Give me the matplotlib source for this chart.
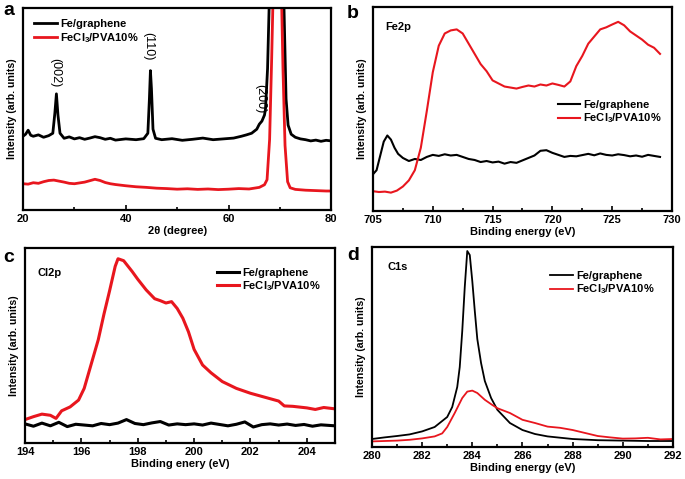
import matplotlib
matplotlib.use("Agg")
import matplotlib.pyplot as plt

plt.rcParams['font.family'] = ['Liberation Sans', 'DejaVu Sans']
plt.rcParams['mathtext.fontset'] = 'custom'
plt.rcParams['mathtext.rm'] = 'Liberation Sans:bold'
plt.rcParams['mathtext.bf'] = 'Liberation Sans:bold'
plt.rcParams['mathtext.default'] = 'bf'

RED = '#e8161e'
labels = ["Fe/graphene", r"FeCl$_3$/PVA10%"]

# (a) XRD
xa_fe = [20, 20.5, 21, 21.5, 22, 23, 24, 25, 25.8, 26.2, 26.5, 26.8, 27.2, 28, 29, 30, 31, 32, 33, 34,
         35, 36, 37, 38, 40, 42, 43.5, 44.3, 44.6, 44.8, 45.0, 45.3, 45.8, 47, 49, 51, 53, 55, 57, 59,
         61, 62.5, 63.5, 64.5, 65.5, 66, 66.5, 67, 67.2, 67.6, 67.9, 69.3, 70.8, 71.2, 71.6, 72.2, 73,
         74, 75, 76, 77, 78, 79, 80]
ya_fe = [36.5, 37.5, 39.5, 37, 36.5, 37.2, 36, 36.8, 38, 48, 57.5, 47, 38, 35.5, 36.2, 35.2, 35.8, 35, 35.6, 36.3,
         35.8, 35, 35.5, 34.6, 35.2, 34.8, 35.3, 38, 55, 69, 60, 40, 35.5, 34.8, 35.3, 34.5, 35, 35.6, 34.8, 35.2,
         35.6, 36.5, 37.2, 38, 40, 42.5, 44, 47, 50, 70, 100, 170, 100, 55, 42, 37.5, 36,
         35.2, 34.8, 34.2, 34.6, 34, 34.5, 34.2]
xa_pva = [20, 21, 22, 23, 24, 25, 26, 27, 28, 29, 30, 31, 32, 33, 34, 35, 36, 37, 38, 40, 42, 44, 46, 48,
          50, 52, 54, 56, 58, 60, 62, 64, 66, 67, 67.5, 68, 68.4, 68.8, 69.5, 70.2, 70.6, 71, 71.5, 72,
          73, 75, 77, 79, 80]
ya_pva = [13, 12.8, 13.5, 13.2, 14, 14.6, 14.8, 14.3, 13.8, 13.2, 13.0, 13.4, 13.8, 14.5, 15.2, 14.6, 13.6, 13, 12.6,
          12, 11.5, 11.2, 10.8, 10.6, 10.3, 10.5, 10.2, 10.4, 10.1, 10.3, 10.6, 10.4, 11.2, 12.5, 15, 35, 75, 120,
          150, 120, 70, 32, 14, 11, 10.2, 9.8, 9.6, 9.4, 9.4]
peaks_a = ["(002)", "(110)", "(200)"]
peaks_a_x = [26.3, 44.4, 66.2]
peaks_a_y = [68, 81, 55]

# (b) Fe2p
xb_fe = [705, 705.3, 705.6, 705.9, 706.2, 706.5, 706.8, 707.1, 707.5, 708, 708.5, 709, 709.5, 710, 710.5,
         711, 711.5, 712, 712.5, 713, 713.5, 714, 714.5, 715, 715.5, 716, 716.5, 717, 717.5, 718, 718.5,
         719, 719.5, 720, 720.5, 721, 721.5, 722, 722.5, 723, 723.5, 724, 724.5, 725, 725.5, 726, 726.5,
         727, 727.5, 728, 728.5, 729]
yb_fe = [18, 20, 27, 34, 37, 35, 31, 28, 26, 24.5, 25.5, 25, 26.5, 27.5, 27, 27.8, 27.2, 27.5, 26.5, 25.5, 25,
         24, 24.5, 23.8, 24.2, 23.2, 24, 23.6, 24.8, 26, 27.2, 29.5, 29.8, 28.5, 27.5, 26.5, 27, 26.8, 27.4,
         28, 27.3, 28.2, 27.5, 27.2, 27.8, 27.4, 26.8, 27.2, 26.6, 27.5, 27, 26.5]
xb_pva = [705, 705.5, 706, 706.5, 707, 707.5, 708, 708.5, 709, 709.5, 710, 710.5, 711, 711.5, 712, 712.5,
          713, 713.5, 714, 714.5, 715, 715.5, 716, 716.5, 717, 717.5, 718, 718.5, 719, 719.5, 720, 720.5,
          721, 721.5, 722, 722.5, 723, 723.5, 724, 724.5, 725, 725.5, 726, 726.5, 727, 727.5, 728, 728.5, 729]
yb_pva = [9.7, 9.3, 9.5, 9, 10, 12, 15, 20, 31, 49, 68, 81, 87, 88.5, 89, 87, 82, 77, 72, 68.5, 64, 62.5, 61, 60.5,
          60, 60.8, 61.5, 61, 62, 61.5, 62.5, 61.8, 61, 63.5, 71, 76, 82, 85.5, 89, 90, 91.4, 92.7, 91, 88, 86,
          84, 81.5, 80, 77]

# (c) Cl2p
xc_fe = [194, 194.3, 194.6, 194.9, 195.2, 195.5, 195.8, 196.1, 196.4, 196.7, 197, 197.3, 197.6, 197.9,
         198.2, 198.5, 198.8, 199.1, 199.4, 199.7, 200, 200.3, 200.6, 200.9, 201.2, 201.5, 201.8, 202.1,
         202.4, 202.7, 203, 203.3, 203.6, 203.9, 204.2, 204.5, 204.8, 205]
yc_fe = [9.8, 8.6, 10.2, 8.8, 10.6, 8.4, 9.6, 9.2, 8.8, 10, 9.4, 10.2, 12, 10, 9.4, 10.3, 11, 9.2, 9.8, 9.4,
         9.8, 9.2, 10.2, 9.5, 8.8, 9.6, 10.8, 8.2, 9.4, 9.8, 9.2, 9.7, 9, 9.5, 8.6, 9.3, 9.0, 8.8]
xc_pva = [194, 194.3, 194.6, 194.9, 195.1, 195.3, 195.6, 195.9, 196.1, 196.3, 196.6, 196.8, 197, 197.2,
          197.3, 197.5, 197.8, 198, 198.3, 198.6, 198.8, 199, 199.2, 199.4, 199.6, 199.8, 200, 200.3, 200.6,
          201, 201.5, 202, 202.5, 203, 203.2, 203.5, 204, 204.3, 204.6, 205]
yc_pva = [12, 13.5, 14.8, 14.2, 12.6, 16.5, 18.5, 22, 28, 38, 53, 66, 78, 90.6, 94.5, 93.5, 88, 84, 78.5, 74,
          73, 71.8, 72.5, 69, 64, 57, 48, 40, 36, 31.5, 28, 25.5, 23.5, 21.5, 19, 18.8, 18, 17.2, 18.2, 17.5]

# (d) C1s
xd_fe = [280, 280.5, 281, 281.5, 282, 282.5, 283, 283.2, 283.4, 283.5, 283.6, 283.7, 283.8, 283.9, 284,
         284.1, 284.2, 284.35, 284.5, 284.75, 285, 285.5, 286, 286.5, 287, 288, 289, 290, 291, 292]
yd_fe = [4, 4.8, 5.5, 6.3, 7.8, 10, 15, 20, 30, 40, 58, 80, 98, 96, 83, 68, 54, 42, 33, 24.5, 18.6, 12, 8.5, 6.5,
         5.3, 4, 3.4, 3.2, 3, 3]
xd_pva = [280, 280.5, 281, 281.5, 282, 282.5, 282.8, 283, 283.3, 283.6, 283.8, 284, 284.2, 284.5, 284.8,
          285, 285.5, 286, 286.5, 287, 287.5, 288, 288.5, 289, 289.5, 290, 290.5, 291, 291.5, 292]
yd_pva = [2.8, 3, 3.2, 3.6, 4.3, 5.3, 6.8, 10, 17, 24.5, 27.7, 28.2, 27, 23.6, 21, 19.4, 17, 13.6, 12, 10.2, 9.6,
          8.5, 7, 5.5, 4.8, 4.2, 4.3, 4.6, 3.8, 4.0]

fig = plt.figure(figsize=(6.85, 4.79), dpi=100)
ax_a = fig.add_axes([0.0336, 0.5616, 0.450, 0.4217])
ax_b = fig.add_axes([0.5445, 0.5595, 0.4365, 0.426])
ax_c = fig.add_axes([0.0365, 0.0752, 0.4526, 0.407])
ax_d = fig.add_axes([0.543, 0.0668, 0.4394, 0.4175])

fs = 8
bold = {'weight': 'bold', 'size': fs}


def style(ax, xlim, major, minor, xlabel):
    ax.set_xlim(*xlim)
    ax.set_ylim(0, 100)
    ax.set_yticks([])
    ax.set_xticks(major)
    ax.set_xticks(minor, minor=True)
    ax.tick_params(axis='x', which='both', direction='in', width=1.2, labelsize=fs, pad=3)
    ax.tick_params(axis='x', which='major', length=3.5)
    ax.tick_params(axis='x', which='minor', length=2.5)
    for lab in ax.get_xticklabels():
        lab.set_fontweight('bold')
    for sp in ax.spines.values():
        sp.set_linewidth(1.6)
    ax.set_xlabel(xlabel, fontdict=bold, labelpad=1)
    ax.set_ylabel("Intensity (arb. units)", fontdict={'weight': 'bold', 'size': 7.6}, labelpad=4)


def legend(ax, x, y, hl):
    ax.legend(loc='upper left', bbox_to_anchor=(x, y), frameon=False, borderpad=0,
              borderaxespad=0, handlelength=hl, handletextpad=0.3, labelspacing=0.15,
              prop={'weight': 'bold', 'size': fs})


# a
ax_a.plot(xa_fe, ya_fe, color='black', lw=2, label=labels[0])
ax_a.plot(xa_pva, ya_pva, color=RED, lw=2, label=labels[1])
for t, px, py in zip(peaks_a, peaks_a_x, peaks_a_y):
    ax_a.text(px, py, t, rotation=-90, ha='center', va='center', fontsize=9)
style(ax_a, (20, 80), [20, 40, 60, 80], [30, 50, 70], "2θ (degree)")
legend(ax_a, 0.035, 0.945, 2.1)

# b
ax_b.plot(xb_fe, yb_fe, color='black', lw=1.5, label=labels[0])
ax_b.plot(xb_pva, yb_pva, color=RED, lw=1.5, label=labels[1])
ax_b.text(0.04, 0.90, "Fe2p", transform=ax_b.transAxes, ha='left', va='center', **bold)
style(ax_b, (705, 730), [705, 710, 715, 720, 725, 730], [707.5, 712.5, 717.5, 722.5, 727.5],
      "Binding energy (eV)")
legend(ax_b, 0.62, 0.545, 1.95)

# c
ax_c.plot(xc_fe, yc_fe, color='black', lw=2.2, label=labels[0])
ax_c.plot(xc_pva, yc_pva, color=RED, lw=2.2, label=labels[1])
ax_c.text(0.04, 0.87, "Cl2p", transform=ax_c.transAxes, ha='left', va='center', **bold)
style(ax_c, (194, 205), [194, 196, 198, 200, 202, 204], [195, 197, 199, 201, 203, 205],
      "Binding enery (eV)")
legend(ax_c, 0.62, 0.90, 1.95)

# d
ax_d.plot(xd_fe, yd_fe, color='black', lw=1.3, label=labels[0])
ax_d.plot(xd_pva, yd_pva, color=RED, lw=1.3, label=labels[1])
ax_d.text(0.05, 0.90, "C1s", transform=ax_d.transAxes, ha='left', va='center', **bold)
style(ax_d, (280, 292), [280, 282, 284, 286, 288, 290, 292], [281, 283, 285, 287, 289, 291],
      "Binding energy (eV)")
legend(ax_d, 0.59, 0.88, 2.1)

# panel letters
for letter, px, py in [("a", 0.0044, 0.9687), ("b", 0.5066, 0.9624),
                       ("c", 0.0044, 0.453), ("d", 0.5066, 0.457)]:
    fig.text(px, py, letter, fontsize=14, fontweight='bold', ha='left', va='baseline')

fig.savefig("out.png", dpi=100)
